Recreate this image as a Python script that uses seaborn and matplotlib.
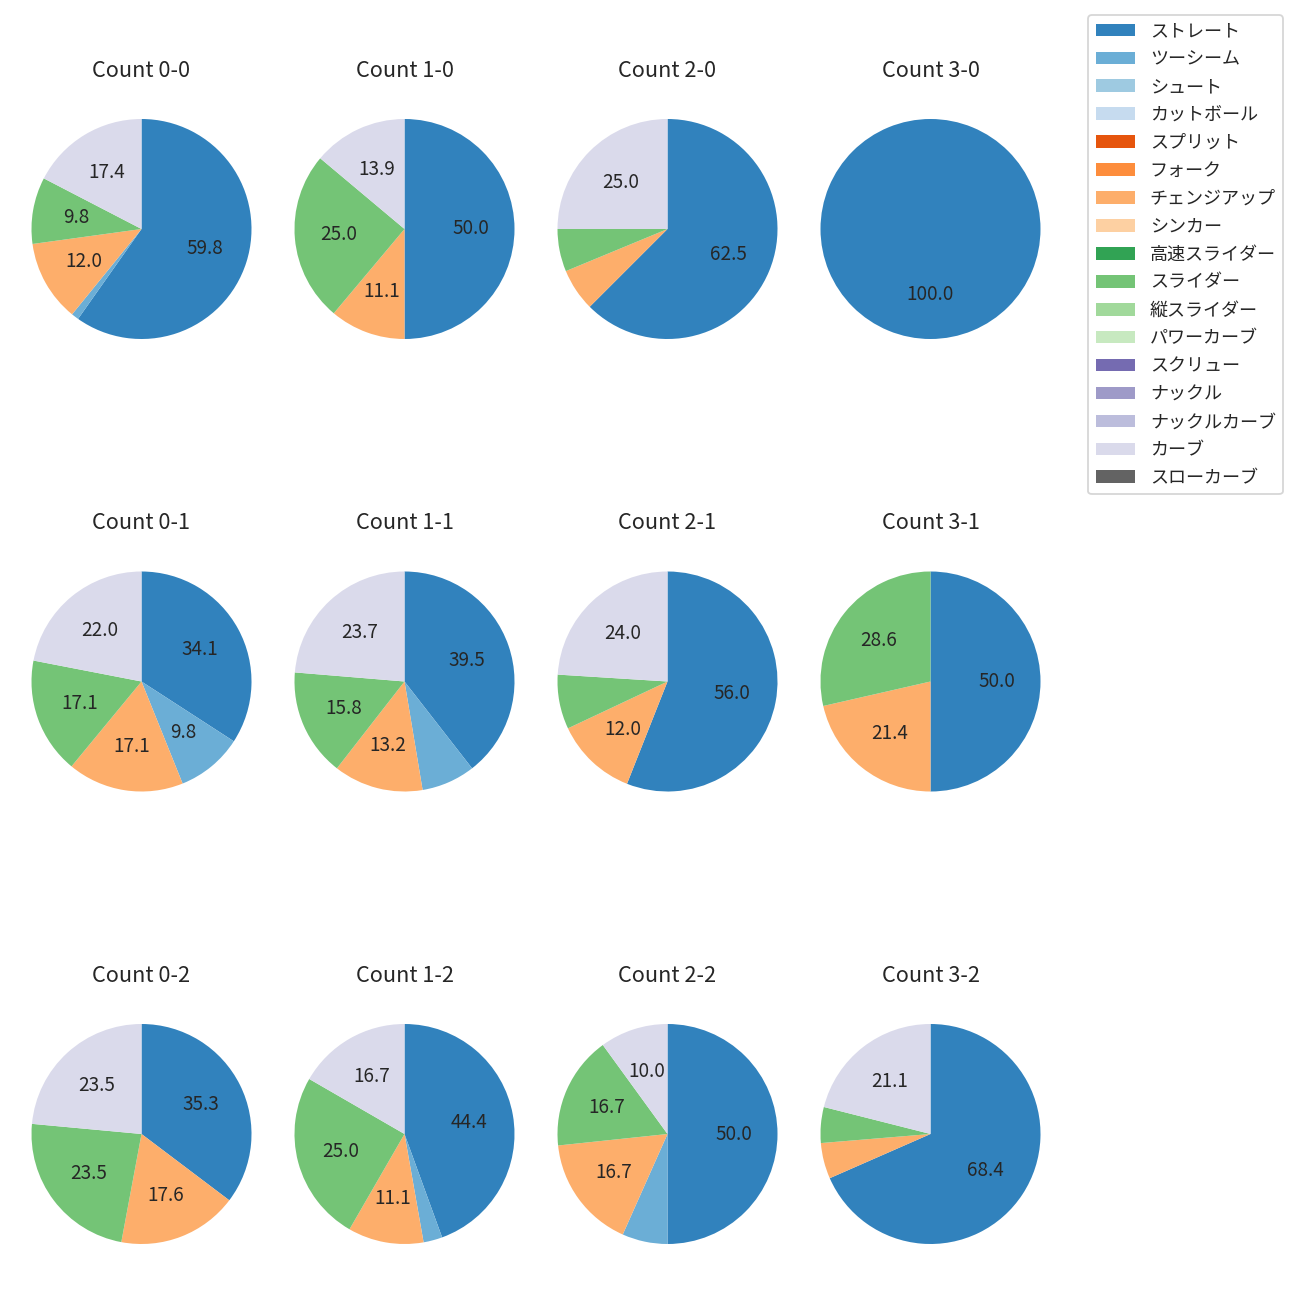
import matplotlib
matplotlib.use("Agg")
import matplotlib.pyplot as plt
from matplotlib.patches import Patch
import seaborn as sns

sns.set_style("white")
plt.rcParams['font.family'] = ['Noto Sans CJK JP', 'DejaVu Sans']

pitch_types = ["ストレート", "ツーシーム", "シュート", "カットボール", "スプリット", "フォーク",
               "チェンジアップ", "シンカー", "高速スライダー", "スライダー", "縦スライダー",
               "パワーカーブ", "スクリュー", "ナックル", "ナックルカーブ", "カーブ", "スローカーブ"]

count_titles = ["Count 0-0", "Count 1-0", "Count 2-0", "Count 3-0",
                "Count 0-1", "Count 1-1", "Count 2-1", "Count 3-1",
                "Count 0-2", "Count 1-2", "Count 2-2", "Count 3-2"]

# pitch counts per ball-strike count: straight, two-seam, changeup, slider, curve
straight = [55, 18, 10, 1, 14, 15, 14, 7, 6, 16, 15, 13]
twoseam  = [1, 0, 0, 0, 4, 3, 0, 0, 0, 1, 2, 0]
changeup = [11, 4, 1, 0, 7, 5, 3, 3, 3, 4, 5, 1]
slider   = [9, 9, 1, 0, 7, 6, 2, 4, 4, 9, 5, 1]
curve    = [16, 5, 4, 0, 9, 9, 6, 0, 4, 6, 3, 4]

palette = sns.color_palette("tab20c", 20)[:17]

fig = plt.figure(figsize=(10, 10), dpi=130)

W, H = 1300.0, 1300.0
col_centers = [141.5, 404.5, 667.5, 930.5]
row_centers = [229.0, 681.5, 1134.0]
side = 275.0


def autopct(p):
    return f"{p:.1f}" if p >= 9 else ""


for i, title in enumerate(count_titles):
    r, c = divmod(i, 4)
    cx, cy = col_centers[c], row_centers[r]
    ax = fig.add_axes([(cx - side / 2) / W, 1 - (cy + side / 2) / H, side / W, side / H])
    vals = [0.0] * 17
    vals[0] = straight[i]
    vals[1] = twoseam[i]
    vals[6] = changeup[i]
    vals[9] = slider[i]
    vals[15] = curve[i]
    idx = [k for k, v in enumerate(vals) if v > 0]
    ax.pie([vals[k] for k in idx], colors=[palette[k] for k in idx],
           startangle=90, counterclock=False, autopct=autopct,
           wedgeprops={"linewidth": 0},
           textprops={"fontsize": 10.5})
    ax.set_title(title, fontsize=12, pad=8.2)

handles = [Patch(facecolor=palette[k], label=pitch_types[k], linewidth=0) for k in range(17)]
fig.legend(handles=handles, loc="upper right",
           bbox_to_anchor=(1283 / W, 1 - 15 / H), borderaxespad=0, fontsize=10,
           labelspacing=0.55, handlelength=2.2)

fig.savefig("out.png", dpi=130)
